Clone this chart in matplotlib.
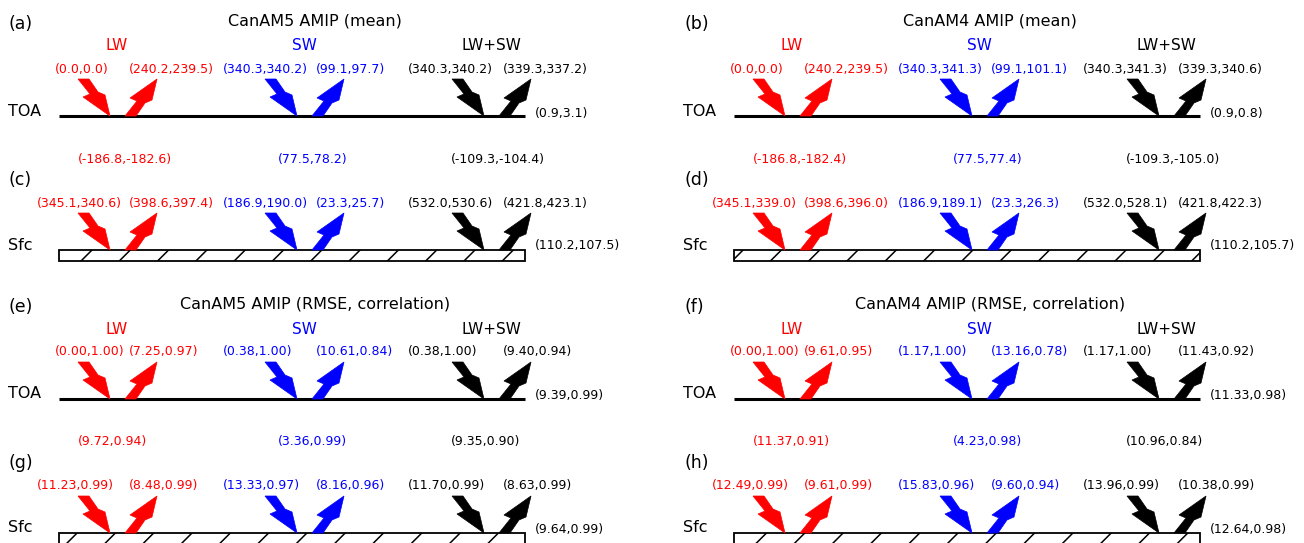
import numpy as np
import matplotlib.pyplot as plt
from matplotlib.patches import Polygon, Rectangle

# panel texts
titles = ["CanAM5 AMIP (mean)", "CanAM4 AMIP (mean)",
          "CanAM5 AMIP (RMSE, correlation)", "CanAM4 AMIP (RMSE, correlation)"]
toa_letters = ["(a)", "(b)", "(e)", "(f)"]
sfc_letters = ["(c)", "(d)", "(g)", "(h)"]
bands = ["LW", "SW", "LW+SW"]
band_colors = ["#ff0000", "#0000ff", "black"]
decimals = [1, 1, 2, 2]

# values per panel: [LW, SW, LW+SW], each (first, second)
toa_down = [
    [(0.0, 0.0), (340.3, 340.2), (340.3, 340.2)],
    [(0.0, 0.0), (340.3, 341.3), (340.3, 341.3)],
    [(0.00, 1.00), (0.38, 1.00), (0.38, 1.00)],
    [(0.00, 1.00), (1.17, 1.00), (1.17, 1.00)],
]
toa_up = [
    [(240.2, 239.5), (99.1, 97.7), (339.3, 337.2)],
    [(240.2, 239.5), (99.1, 101.1), (339.3, 340.6)],
    [(7.25, 0.97), (10.61, 0.84), (9.40, 0.94)],
    [(9.61, 0.95), (13.16, 0.78), (11.43, 0.92)],
]
toa_net = [(0.9, 3.1), (0.9, 0.8), (9.39, 0.99), (11.33, 0.98)]
atm_net = [
    [(-186.8, -182.6), (77.5, 78.2), (-109.3, -104.4)],
    [(-186.8, -182.4), (77.5, 77.4), (-109.3, -105.0)],
    [(9.72, 0.94), (3.36, 0.99), (9.35, 0.90)],
    [(11.37, 0.91), (4.23, 0.98), (10.96, 0.84)],
]
sfc_down = [
    [(345.1, 340.6), (186.9, 190.0), (532.0, 530.6)],
    [(345.1, 339.0), (186.9, 189.1), (532.0, 528.1)],
    [(11.23, 0.99), (13.33, 0.97), (11.70, 0.99)],
    [(12.49, 0.99), (15.83, 0.96), (13.96, 0.99)],
]
sfc_up = [
    [(398.6, 397.4), (23.3, 25.7), (421.8, 423.1)],
    [(398.6, 396.0), (23.3, 26.3), (421.8, 422.3)],
    [(8.48, 0.99), (8.16, 0.96), (8.63, 0.99)],
    [(9.61, 0.99), (9.60, 0.94), (10.38, 0.99)],
]
sfc_net = [(110.2, 107.5), (110.2, 105.7), (9.64, 0.99), (12.64, 0.98)]

# layout (pixels)
W, H = 1304, 543
panel_origin = [(0, 0), (675, 0), (0, 283), (675, 283)]
tips = [110, 297, 484]
down_left = [37, 223, 408]
net_left = [78, 278, 451]
y_toa, y_sfc = 116, 250
# lightning-bolt outline relative to the tip (x right, y up)
bolt = np.array([(-32, 37), (-21, 37), (-12, 24), (-5, 21), (0, 0), (-27, 19), (-20, 22)])


def fmt(pair, nd):
    return "(%.*f,%.*f)" % (nd, pair[0], nd, pair[1])


def arrows(ax, x0, yline, color):
    # downward bolt, tip on the line
    pts = np.column_stack([x0 + bolt[:, 0], yline - bolt[:, 1]])
    ax.add_patch(Polygon(pts, closed=True, fc=color, ec=color, lw=0.5))
    # upward bolt, base on the line
    xu, yu = x0 + 47, yline - 37
    pts = np.column_stack([xu + bolt[:, 0], yu + bolt[:, 1]])
    ax.add_patch(Polygon(pts, closed=True, fc=color, ec=color, lw=0.5))


fig = plt.figure(figsize=(W / 100, H / 100), dpi=100)
ax = fig.add_axes([0, 0, 1, 1])
ax.set_xlim(0, W)
ax.set_ylim(H, 0)
ax.axis("off")

fs = 9
for p in range(4):
    ox, oy = panel_origin[p]
    nd = decimals[p]
    ax.text(ox + 315, oy + 21, titles[p], ha="center", va="center", fontsize=11.5)
    ax.text(ox + 9, oy + 24, toa_letters[p], ha="left", va="center", fontsize=12.5)
    ax.text(ox + 9, oy + 180, sfc_letters[p], ha="left", va="center", fontsize=12.5)
    ax.text(ox + 8, oy + 111, "TOA", ha="left", va="center", fontsize=11.5)
    ax.text(ox + 8, oy + 245, "Sfc", ha="left", va="center", fontsize=11.5)

    # TOA line
    ax.plot([ox + 59, ox + 525], [oy + y_toa, oy + y_toa], color="black", lw=2.2,
            solid_capstyle="butt", zorder=1)
    # surface box with hatching
    box = Rectangle((ox + 59, oy + y_sfc), 466, 11, fc="white", ec="black", lw=1.3, zorder=1)
    ax.add_patch(box)
    ys = (oy + y_sfc, oy + y_sfc + 11)
    for k in range(-10, 60):
        c = 342 + 38.3 * k
        ln, = ax.plot([c - ys[1], c - ys[0]], [ys[1], ys[0]], color="black", lw=1.1, zorder=2)
        ln.set_clip_path(box)

    for b in range(3):
        col = band_colors[b]
        xt = ox + tips[b]
        ax.text(xt + 7, oy + 46, bands[b], color=col, ha="center", va="center", fontsize=11)
        arrows(ax, xt, oy + y_toa, col)
        arrows(ax, xt, oy + y_sfc, col)
        dl = ox + down_left[b]
        if b == 0:
            ax.text(ox + 55, oy + 69, fmt(toa_down[p][b], nd), color=col, ha="left",
                    va="center", fontsize=fs)
        else:
            ax.text(dl, oy + 69, fmt(toa_down[p][b], nd), color=col, ha="left",
                    va="center", fontsize=fs)
        ax.text(xt + 19, oy + 69, fmt(toa_up[p][b], nd), color=col, ha="left",
                va="center", fontsize=fs)
        ax.text(ox + net_left[b], oy + 159, fmt(atm_net[p][b], nd), color=col, ha="left",
                va="center", fontsize=fs)
        ax.text(dl, oy + 203, fmt(sfc_down[p][b], nd), color=col, ha="left",
                va="center", fontsize=fs)
        ax.text(xt + 19, oy + 203, fmt(sfc_up[p][b], nd), color=col, ha="left",
                va="center", fontsize=fs)

    ax.text(ox + 535, oy + 113, fmt(toa_net[p], nd), ha="left", va="center", fontsize=fs)
    ax.text(ox + 535, oy + 246, fmt(sfc_net[p], nd), ha="left", va="center", fontsize=fs)

fig.savefig("out.png", dpi=100)
